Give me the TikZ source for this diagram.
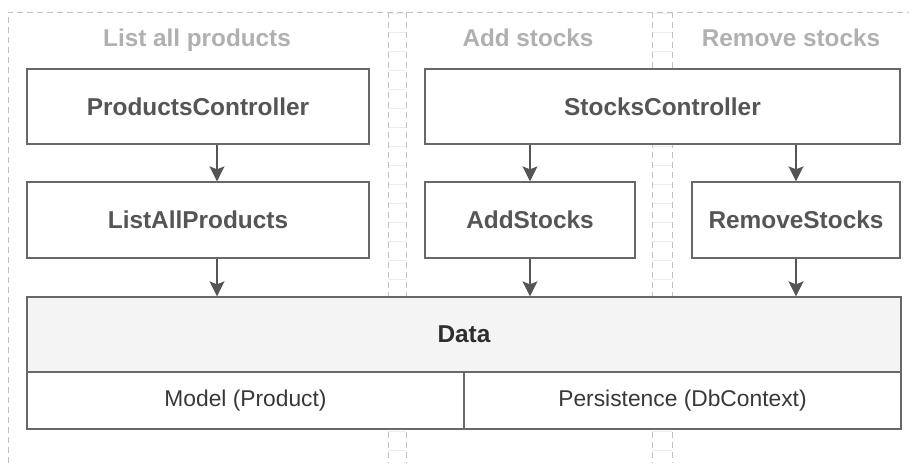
\documentclass[tikz,border=0pt]{standalone}
\usepackage{fontspec}
\setmainfont{Liberation Sans}
\usetikzlibrary{arrows.meta}
\definecolor{lanec}{HTML}{C2C2C2}
\definecolor{rungc}{HTML}{EDEDED}
\definecolor{titlec}{HTML}{B0B0B0}
\definecolor{boxc}{HTML}{686868}
\definecolor{textc}{HTML}{555555}
\definecolor{datafill}{HTML}{F4F4F4}
\tikzset{
  lane/.style={draw=lanec, line width=0.9pt, dash pattern=on 6pt off 4pt},
  rung/.style={draw=rungc, line width=0.8pt},
  lanetitle/.style={text=titlec, anchor=base, inner sep=0pt, font=\fontsize{24.3}{28}\selectfont\bfseries},
  box/.style={draw=boxc, line width=1.3pt, fill=white, rectangle, inner sep=0pt,
    text=textc, font=\fontsize{24.4}{28}\selectfont\bfseries},
  subbox/.style={draw=boxc, line width=1.3pt, fill=white, rectangle, inner sep=0pt,
    text=black!78, font=\fontsize{22.8}{26}\selectfont},
  arr/.style={draw=textc, line width=1.5pt, -{Stealth[length=15pt,width=15pt,inset=3pt]}}
}
\begin{document}
\begin{tikzpicture}[x=1pt,y=-1pt]
\useasboundingbox[fill=white] (0,0) rectangle (909,463);
% faint rungs in the gaps
\foreach \yy in {13,32,51,70,89,108,127,146,165,184,203,222,241,260,279,298,317,336,355,374,393,412,431,450}{
  \draw[rung] (388,\yy) -- (406,\yy);
  \draw[rung] (652,\yy) -- (672,\yy);
}
% lanes
\draw[lane] (8,463) -- (8,12) -- (909,12);
\draw[lane] (388,12) -- (388,463);
\draw[lane] (406,12) -- (406,463);
\draw[lane] (652,12) -- (652,463);
\draw[lane] (672,12) -- (672,463);
% lane titles
\node[lanetitle] (t1) at (197,46) {List all products};
\node[lanetitle] (t2) at (528,46) {Add stocks};
\node[lanetitle] (t3) at (791,46) {Remove stocks};
% boxes
\node[box, minimum width=342pt, minimum height=75pt] (pc) at (198,106.5) {ProductsController};
\node[box, minimum width=475pt, minimum height=75pt] (sc) at (662.5,106.5) {StocksController};
\node[box, minimum width=342pt, minimum height=76pt] (lap) at (198,220) {ListAllProducts};
\node[box, minimum width=210pt, minimum height=76pt] (as) at (530,220) {AddStocks};
\node[box, minimum width=208pt, minimum height=76pt] (rs) at (796,220) {RemoveStocks};
\node[box, fill=datafill, text=black!82, minimum width=874pt, minimum height=75pt] (data) at (464,334.5) {Data};
\node[subbox, minimum width=437pt, minimum height=57pt] (model) at (245.5,400.5) {Model (Product)};
\node[subbox, minimum width=437pt, minimum height=57pt] (pers) at (682.5,400.5) {Persistence (DbContext)};
% arrows
\draw[arr] ([xshift=19pt]pc.south) -- ([xshift=19pt]lap.north);
\draw[arr] ([xshift=19pt]lap.south) -- ([xshift=19pt]lap.south |- data.north);
\draw[arr] (as.north |- sc.south) -- (as.north);
\draw[arr] (as.south) -- (as.south |- data.north);
\draw[arr] (rs.north |- sc.south) -- (rs.north);
\draw[arr] (rs.south) -- (rs.south |- data.north);
\end{tikzpicture}
\end{document}
